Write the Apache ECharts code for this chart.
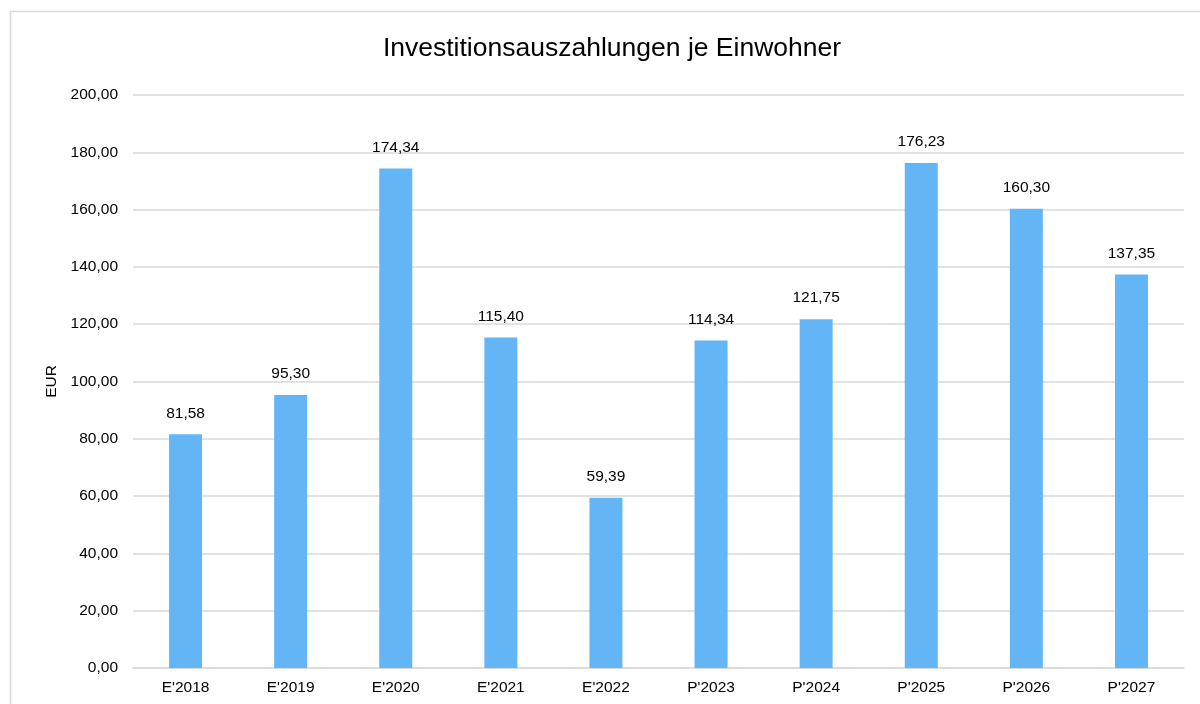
<!DOCTYPE html>
<html>
<head>
<meta charset="utf-8">
<script src="https://cdn.jsdelivr.net/npm/echarts@6/dist/echarts.min.js"></script>
<style>
  html, body { margin: 0; padding: 0; background: #fff; }
  #chart { width: 1200px; height: 704px; }
</style>
</head>
<body>
<div id="chart"></div>
<script>
// Daten
const years = ["E'2018", "E'2019", "E'2020", "E'2021", "E'2022", "P'2023", "P'2024", "P'2025", "P'2026", "P'2027"];
const values = [81.58, 95.30, 174.34, 115.40, 59.39, 114.34, 121.75, 176.23, 160.30, 137.35];
const yTicks = [0, 20, 40, 60, 80, 100, 120, 140, 160, 180, 200];

const fmt = (v) => v.toFixed(2).replace(".", ",");

const chart = echarts.init(document.getElementById("chart"));
chart.setOption({
  animation: false,
  textStyle: { fontFamily: "Liberation Sans, Arial, sans-serif" },
  graphic: [
    {
      type: "rect",
      shape: { x: 10.5, y: 11.5, width: 1300, height: 800 },
      style: { fill: "none", stroke: "#d9d9d9", lineWidth: 1.5 },
      silent: true
    }
  ],
  title: {
    text: "Investitionsauszahlungen je Einwohner",
    left: 607,
    top: 30,
    textAlign: "center",
    textStyle: { fontSize: 26.5, fontWeight: "normal", color: "#000" }
  },
  grid: { left: 133, right: 16, top: 95, bottom: 36, containLabel: false },
  xAxis: {
    type: "category",
    data: years,
    axisLine: { lineStyle: { color: "#d9d9d9", width: 1.5 } },
    axisTick: { show: false },
    axisLabel: { color: "#000", fontSize: 15.5, margin: 12 }
  },
  yAxis: {
    type: "value",
    min: yTicks[0],
    max: yTicks[yTicks.length - 1],
    interval: 20,
    name: "EUR",
    nameLocation: "middle",
    nameGap: 73,
    nameRotate: 90,
    nameTextStyle: { color: "#000", fontSize: 15.5 },
    axisLabel: { color: "#000", fontSize: 15.5, margin: 15, formatter: fmt },
    splitLine: { lineStyle: { color: "#d9d9d9", width: 1.5 } }
  },
  series: [
    {
      type: "bar",
      data: values,
      barWidth: 33,
      itemStyle: { color: "#64B5F6" },
      label: {
        show: true,
        position: "top",
        distance: 13,
        color: "#000",
        fontSize: 15.5,
        formatter: (p) => fmt(p.value)
      }
    }
  ]
});
</script>
</body>
</html>
